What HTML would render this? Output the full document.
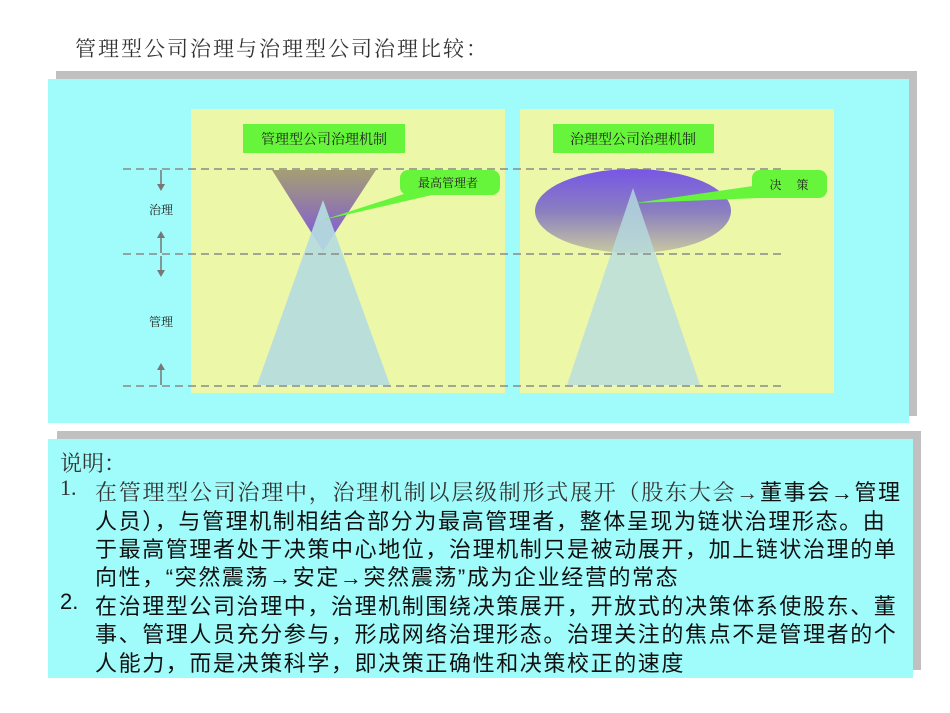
<!DOCTYPE html>
<html><head><meta charset="utf-8"><style>
body{margin:0;width:950px;height:713px;background:#fff;position:relative;overflow:hidden;font-family:"Liberation Sans","Noto Sans CJK SC",sans-serif}
.t{position:absolute;white-space:nowrap;color:#111}
.ln{position:absolute;left:95px;font-size:22px;white-space:nowrap;color:#111;letter-spacing:1.6px}
.serif{font-family:"Liberation Serif","Noto Serif CJK SC",serif;color:#333}
</style></head><body>
<div class="t serif" style="left:75px;top:33px;font-size:21px;letter-spacing:2px;">管理型公司治理与治理型公司治理比较：</div>
<svg width="950" height="713" style="position:absolute;left:0;top:0">
<defs>
<linearGradient id="g1" x1="0" y1="0" x2="0" y2="1"><stop offset="0" stop-color="#a59f72"/><stop offset="1" stop-color="#7a50e6"/></linearGradient>
<linearGradient id="g2" x1="0" y1="0" x2="0" y2="1"><stop offset="0" stop-color="#7756e6"/><stop offset="0.5" stop-color="#8a7ec0"/><stop offset="1" stop-color="#c8c8a0"/></linearGradient>
</defs>
<rect x="56" y="71" width="861" height="345" fill="#c0c0c0"/>
<rect x="48" y="79" width="861" height="344" fill="#a0fcfa"/>
<rect x="191" y="109" width="314" height="284" fill="#edf7a8"/>
<rect x="520" y="109" width="314" height="284" fill="#edf7a8"/>
<polygon points="272,170 376,170 323,251" fill="url(#g1)"/>
<polygon points="323,200 390,385 257,385" fill="#b5dce0" opacity="0.92"/>
<ellipse cx="633" cy="211" rx="98" ry="42" fill="url(#g2)"/>
<polygon points="633,188 700,385 567,385" fill="#b5dce0" opacity="0.8"/>
<g stroke="#8a8a8a" stroke-width="1.5" stroke-dasharray="8,5" fill="none">
<line x1="123" y1="169" x2="782" y2="169"/><line x1="123" y1="254" x2="782" y2="254"/><line x1="123" y1="386" x2="782" y2="386"/>
</g>
<g stroke="#777" stroke-width="1.5"><line x1="161" y1="170" x2="161" y2="185"/><line x1="161" y1="236" x2="161" y2="253"/><line x1="161" y1="256" x2="161" y2="271"/><line x1="161" y1="368" x2="161" y2="385"/></g>
<g fill="#777"><polygon points="157,184 165,184 161,191"/><polygon points="157,238 165,238 161,231"/><polygon points="157,270 165,270 161,277"/><polygon points="157,370 165,370 161,363"/></g>
<rect x="243" y="124" width="162" height="29" fill="#66f53a"/>
<rect x="553" y="124" width="161" height="29" fill="#66f53a"/>
<polygon points="410,192 445,192 323,220" fill="#66f53a"/>
<rect x="400" y="170" width="100" height="25" rx="8" fill="#66f53a"/>
<polygon points="760,185 760,198 635,203" fill="#66f53a"/>
<rect x="752" y="170" width="75" height="28" rx="8" fill="#66f53a"/>
<g font-family="Liberation Serif,Noto Serif CJK SC,serif" fill="#222">
<text x="324" y="144" font-size="14" text-anchor="middle">管理型公司治理机制</text>
<text x="633" y="144" font-size="14" text-anchor="middle">治理型公司治理机制</text>
<text x="448" y="187" font-size="12" text-anchor="middle">最高管理者</text>
<text x="789" y="189" font-size="12" text-anchor="middle">决　 策</text>
<text x="161" y="214" font-size="12" text-anchor="middle">治理</text>
<text x="161" y="326" font-size="12" text-anchor="middle">管理</text>
</g>
<rect x="57" y="431" width="864" height="239" fill="#c0c0c0"/>
<rect x="48" y="439" width="865" height="239" fill="#a0fcfa"/>
</svg>
<div class="t serif" style="left:60px;top:447px;font-size:22px;">说明：</div>
<div class="t serif" style="left:60px;top:475px;font-size:22px;">1.</div>
<div class="ln" style="top:475px"><span class="serif" style="letter-spacing:1.75px">在管理型公司治理中，治理机制以层级制形式展开（股东大会→</span>董事会→管理</div>
<div class="ln" style="top:504px">人员），与管理机制相结合部分为最高管理者，整体呈现为链状治理形态。由</div>
<div class="ln" style="top:532px">于最高管理者处于决策中心地位，治理机制只是被动展开，加上链状治理的单</div>
<div class="ln" style="top:560px">向性，“突然震荡→安定→突然震荡”成为企业经营的常态</div>
<div class="t" style="left:60px;top:589px;font-size:22px;">2.</div>
<div class="ln" style="top:589px">在治理型公司治理中，治理机制围绕决策展开，开放式的决策体系使股东、董</div>
<div class="ln" style="top:617px">事、管理人员充分参与，形成网络治理形态。治理关注的焦点不是管理者的个</div>
<div class="ln" style="top:646px">人能力，而是决策科学，即决策正确性和决策校正的速度</div>
</body></html>
